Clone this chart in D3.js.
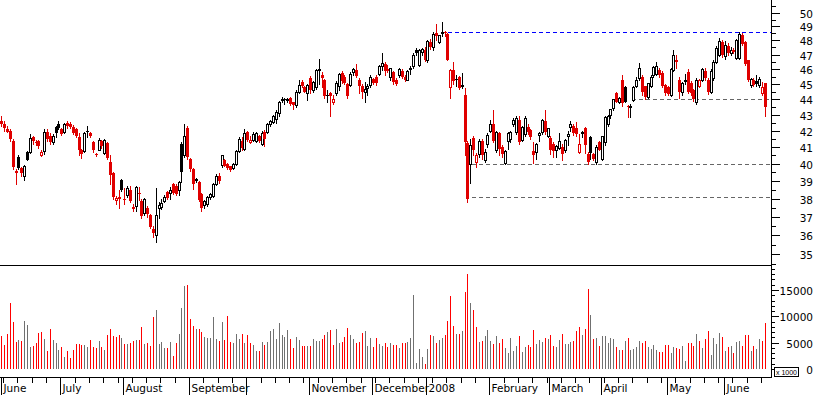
<!DOCTYPE html>
<html><head><meta charset="utf-8">
<script src="https://cdn.jsdelivr.net/npm/d3@7"></script>
<style>html,body{margin:0;padding:0;background:#fff;}svg{display:block;}</style>
</head><body>
<svg id="chart" width="817" height="395"></svg>
<script>
// ---- data (price in currency units, volume in x1000 shares) ----
const open = [
42.6,42.4,42.1,42.0,41.4,39.6,40.4,39.75,39.3,40.7,
40.7,41.6,41.3,41.35,40.5,40.75,41.95,41.7,41.3,42.25,
42.45,42.1,41.9,42.5,42.45,42.25,42.1,41.6,40.8,40.75,
42.0,41.85,41.3,40.6,40.85,41.35,40.65,41.25,40.1,39.45,
37.92,38.1,39.05,38.0,38.2,38.5,37.55,37.6,38.3,37.85,
37.2,37.45,37.1,36.35,36.0,37.45,37.55,37.85,38.4,38.3,
38.8,38.7,38.5,41.2,40.5,42.2,40.3,39.7,39.1,38.95,
38.25,37.65,37.7,38.1,38.15,38.8,39.3,39.95,40.2,40.0,
39.85,39.75,40.0,40.75,41.4,40.9,41.95,41.3,41.45,41.35,
41.7,41.2,41.9,41.9,42.45,42.55,42.75,43.1,44.05,44.05,
43.95,44.1,43.8,43.6,44.5,45.15,44.8,44.4,45.4,44.6,
44.8,45.95,45.6,45.25,44.25,44.4,43.8,44.4,44.9,45.75,
45.5,45.0,44.95,45.8,45.95,45.3,44.9,44.5,44.75,44.95,
45.35,45.5,45.7,46.25,46.35,46.0,45.5,45.8,45.3,45.6,
45.9,45.5,45.3,46.0,46.2,47.35,46.3,47.2,47.3,46.6,
47.9,47.5,48.55,47.9,48.5,48.6,48.45,44.8,45.95,45.35,
45.5,44.9,44.25,41.25,40.0,41.55,40.1,40.6,41.4,40.25,
41.2,42.0,42.45,40.85,41.85,41.0,40.05,41.35,41.5,42.45,
41.9,42.7,41.45,41.8,42.25,42.05,40.75,40.7,41.75,41.9,
42.6,41.65,41.55,41.2,40.8,40.95,41.0,40.85,41.65,42.25,
42.3,42.2,40.7,41.85,42.15,40.6,41.6,40.6,40.1,41.3,
40.3,41.3,42.45,43.0,43.45,44.4,43.85,45.3,44.8,43.55,
43.5,43.95,44.9,45.4,45.45,44.85,44.15,44.9,45.6,45.7,
45.95,45.75,44.95,44.8,44.3,45.95,46.6,45.3,44.5,45.2,
45.8,45.1,44.6,43.85,44.9,45.3,45.9,45.3,44.5,45.4,
46.5,47.0,47.85,46.9,47.6,47.1,47.35,46.75,46.8,48.4,
47.9,46.6,44.95,45.3,45.2,44.95,44.4,45.05];
const high = [
42.9,42.6,42.3,42.1,41.5,39.7,40.5,39.8,39.95,40.75,
41.8,41.7,41.45,41.45,40.8,42.1,42.1,41.85,41.8,42.3,
42.6,42.2,42.5,42.6,42.55,42.35,42.2,41.85,40.9,41.95,
42.3,41.9,41.4,40.65,41.55,41.45,41.5,41.3,40.5,39.5,
38.15,38.5,39.1,38.6,38.7,38.7,37.7,38.7,38.65,37.95,
38.05,37.6,37.15,36.5,38.6,37.8,37.95,38.2,38.45,38.65,
38.9,38.8,39.0,41.3,42.45,42.3,40.35,39.75,39.15,39.0,
38.3,37.9,38.15,38.3,38.9,39.4,39.45,40.55,40.3,40.05,
39.9,40.05,40.8,41.6,41.6,42.1,42.0,41.7,41.9,41.9,
41.75,42.0,42.05,42.5,42.65,43.0,43.3,43.9,44.15,44.1,
44.1,44.15,43.85,44.6,45.3,45.3,44.9,45.0,45.55,45.2,
46.0,46.7,45.8,45.35,44.6,44.45,44.3,45.2,45.75,45.9,
45.6,45.1,45.8,46.05,46.35,45.4,45.0,45.15,45.0,45.6,
45.4,45.6,46.3,47.1,46.5,46.3,46.1,45.9,45.4,46.1,
46.0,45.6,45.95,46.2,47.1,47.45,47.4,47.45,47.5,48.05,
48.1,48.6,49.2,48.4,49.3,48.7,48.5,46.0,46.5,45.6,
45.55,45.75,44.75,41.35,41.5,41.7,40.65,41.5,41.5,40.9,
41.85,42.7,43.3,42.0,41.9,41.1,40.85,41.95,42.0,42.8,
42.95,42.95,42.3,42.9,42.4,42.1,41.3,41.25,41.9,42.75,
43.3,42.2,41.7,41.3,41.1,41.85,41.2,41.5,42.0,42.6,
42.4,42.55,41.8,42.0,42.25,40.7,41.7,40.65,41.1,41.35,
41.7,42.95,43.0,43.4,44.05,44.5,44.15,45.6,44.85,43.65,
43.7,44.85,45.5,46.4,45.6,44.9,45.1,45.6,46.25,46.5,
46.1,45.85,45.0,44.9,46.05,47.3,47.0,45.5,45.15,45.7,
46.0,45.2,44.7,45.4,45.35,46.05,46.1,45.4,46.0,46.6,
47.6,48.2,48.0,47.95,47.8,47.5,47.45,48.1,48.6,48.5,
47.95,46.65,45.4,45.4,45.6,45.5,45.15,45.1];
const low = [
42.3,42.0,41.9,41.4,39.7,38.8,39.7,39.3,39.05,40.2,
40.65,41.2,41.1,40.95,40.45,40.6,41.4,41.2,41.2,41.6,
42.1,41.75,41.85,42.2,42.15,41.8,41.6,40.5,40.35,40.7,
41.6,41.6,40.7,40.45,40.8,40.95,40.6,40.3,38.8,38.0,
37.7,37.5,38.45,37.7,38.1,37.8,37.3,37.3,37.9,36.9,
37.1,37.0,36.4,35.9,35.65,36.9,37.4,37.8,38.0,37.95,
38.25,38.2,38.2,38.95,40.4,40.3,39.6,38.55,38.95,37.85,
37.3,37.5,37.6,37.95,38.1,38.75,38.9,39.8,39.85,39.7,
39.6,39.7,39.95,40.7,40.85,40.85,41.4,41.25,41.4,41.3,
41.3,41.1,41.05,41.85,42.3,42.5,42.5,42.9,43.8,43.7,
43.8,43.6,43.4,43.5,44.4,44.8,44.45,43.95,44.4,44.5,
44.7,45.0,44.8,44.1,43.85,42.9,43.7,44.3,44.6,45.1,
45.0,44.1,44.9,45.6,45.5,44.4,44.1,43.8,44.3,44.8,
45.0,44.95,45.6,45.95,45.6,45.8,45.3,45.0,44.95,45.5,
45.4,45.2,45.25,45.7,46.1,47.0,46.25,47.0,46.55,46.5,
47.4,47.3,48.0,47.8,48.3,48.3,46.6,44.1,45.0,44.9,
44.7,44.75,40.5,37.8,38.9,40.5,39.8,40.4,40.3,40.1,
41.0,41.9,41.3,40.7,40.5,40.4,40.0,40.9,41.3,42.3,
41.8,41.2,41.4,41.7,41.8,41.5,40.05,40.3,41.4,41.8,
41.8,41.6,40.6,40.4,40.4,40.9,40.2,40.7,41.1,42.0,
41.75,41.7,40.65,41.6,40.65,40.0,40.3,40.2,40.0,40.8,
40.25,41.1,42.3,42.8,43.3,43.8,43.75,43.55,43.8,42.85,
42.85,43.9,44.8,45.3,44.3,44.0,44.1,44.8,45.5,45.6,
45.5,44.8,44.3,44.25,44.2,45.9,46.1,44.1,44.3,45.0,
44.4,44.3,43.9,43.7,44.8,45.2,45.3,44.35,44.4,45.3,
46.4,46.9,46.85,46.7,47.0,47.0,47.1,46.7,46.7,47.7,
46.3,45.2,44.8,44.9,44.9,44.8,44.3,42.95];
const close = [
42.45,42.2,41.95,41.5,39.8,39.45,39.75,39.45,39.85,40.25,
41.55,41.35,41.28,41.05,40.7,41.9,41.5,41.3,41.7,41.85,
42.15,41.8,42.45,42.3,42.25,41.85,41.7,40.8,40.6,41.85,
41.9,41.65,40.8,40.5,41.45,41.05,41.45,40.35,39.35,38.1,
38.05,38.0,38.5,37.9,38.6,37.85,37.4,38.65,38.25,37.05,
38.0,37.15,36.45,36.1,37.1,37.65,37.75,38.1,38.05,38.5,
38.3,38.25,38.95,39.5,41.7,40.4,39.7,38.85,39.0,37.9,
37.45,37.85,38.1,38.25,38.8,39.3,39.0,40.5,39.9,39.75,
39.65,40.0,40.75,41.5,40.95,41.85,41.45,41.42,41.8,41.85,
41.35,41.85,41.5,42.4,42.6,42.95,43.2,43.85,43.9,43.95,
44.0,43.7,43.6,44.5,44.95,44.85,44.5,44.95,44.6,45.15,
45.95,46.0,45.4,44.2,44.3,44.2,44.0,45.1,45.7,45.2,
45.1,44.2,45.7,46.0,45.55,44.85,44.5,44.7,44.9,45.5,
45.1,45.05,46.2,46.4,45.9,45.85,46.05,45.15,45.0,46.0,
45.5,45.3,45.9,46.1,47.0,47.1,47.35,47.4,46.6,47.95,
47.5,48.45,48.3,48.35,48.6,48.5,46.65,45.95,45.2,45.25,
44.75,44.95,41.3,38.0,41.1,40.85,40.55,41.35,40.5,40.7,
41.75,42.4,41.4,41.9,40.9,40.6,40.75,41.85,41.9,42.7,
42.8,41.3,42.25,42.8,41.95,41.6,40.5,41.2,41.85,42.7,
41.9,42.15,40.85,40.75,41.05,41.35,40.6,41.45,41.8,42.45,
41.85,41.8,41.2,41.9,41.1,40.1,40.65,40.3,41.0,40.85,
41.65,42.85,42.95,43.35,44.0,43.85,44.1,43.75,43.85,43.5,
43.55,44.8,45.3,46.05,44.5,44.15,45.05,45.5,46.15,46.2,
45.6,44.85,44.4,44.35,46.0,46.95,46.5,44.5,45.05,45.3,
44.5,44.4,44.0,45.3,45.25,46.0,45.4,44.45,45.9,46.5,
47.45,47.95,46.95,47.7,47.1,47.35,47.15,48.0,48.45,47.75,
46.35,45.25,45.35,44.95,45.0,45.35,44.8,43.5];
const volume = [
6300,4600,6600,12600,8900,5200,5500,5300,9100,8400,
4100,4400,5000,6900,7100,5700,3500,7600,5500,4900,
3600,4100,2300,3400,2000,3600,4700,4700,4600,4600,
4100,5500,4100,3900,5300,4100,3600,6500,7600,6300,
6100,6500,5900,4700,4700,5000,5400,5500,5500,8000,
4700,5000,4400,9900,11200,4700,5100,4000,3900,5100,
2500,4900,6600,11600,15800,15900,9500,8200,7600,7600,
7000,6100,5900,5900,9900,5700,5300,8900,5500,10100,
5100,4900,6600,5700,6600,4900,6500,4900,4600,3500,
3500,5100,4600,5100,7200,7600,5700,8700,6500,6100,
7400,5700,4000,6100,5500,4400,4400,4400,4400,5700,
5300,5300,5700,6500,7000,7400,4600,7600,4900,5100,
6100,7800,6500,5700,4900,5100,6800,7200,4400,5900,
4200,5900,4700,4400,4900,4100,4900,4600,4600,4000,
4900,4900,5100,5900,14100,1100,3800,2300,900,3800,
6500,6300,4900,5500,5900,6500,9100,13900,8200,6600,
6600,7200,14600,18000,12500,11200,8000,5100,5300,6300,
7400,5300,4700,6300,4900,5700,4000,3000,5900,3400,
4400,6300,3200,4200,4600,4200,7400,4700,5500,5100,
5900,5700,6500,4400,4200,5500,6600,4700,4700,5100,
5300,7200,8000,6500,7600,15200,10300,5700,5900,4400,
6300,6300,4900,5900,5700,4200,3600,3600,5300,5900,
3600,3800,4200,5300,4900,5300,4200,3800,4600,3600,
3200,3200,4600,4600,3000,4200,4000,3800,4400,1500,
4900,4900,4400,6600,5300,4000,5700,7200,2700,5900,
4700,6800,6100,3400,4200,4400,3000,5100,5300,4400,
6500,6500,3400,4400,3800,5700,5300,8700];
// month start bar indices and labels (October label hidden in the original)
const monthStart = [0,21,43,66,86,108,130,149,171,192,210,233,253];
const monthLabel = ["June","July","August","September","","November","December","2008","February","March","April","May","June"];
const priceTicks = [35,36,37,38,39,40,41,42,43,44,45,46,47,48,49,50];
const volumeTicks = [0,5000,10000,15000];
// horizontal reference levels: value, first bar index
const refValue = [48.57,44,40,38.07];
const refFrom  = [154,221,165,165];
const refColor = ["#0000ff","#666666","#666666","#666666"];

// ---- layout ----
const N = close.length;
const axisX = 771;
const RED = "#e00000", VRED = "#ff0000", VGRAY = "#707070";
const svg = d3.select("#chart").attr("shape-rendering","crispEdges");
svg.append("rect").attr("width",817).attr("height",395).attr("fill","#fff");

const x  = d3.scaleLinear().domain([0, 267]).range([1.3, 764.9]);
const y  = d3.scaleLog().domain([35, 50]).range([254.3, 12.7]);
const yv = d3.scaleLinear().domain([0, 15000]).range([369, 290]);
const px = i => Math.round(x(i));

const font = "DejaVu Sans, Verdana, sans-serif";

// reference dashed lines
const gRef = svg.append("g");
refValue.forEach((v,k)=>{
  const yy = Math.round(y(v)) + 0.5;
  gRef.append("line").attr("x1", px(refFrom[k]) - 1).attr("x2", axisX)
    .attr("y1", yy).attr("y2", yy)
    .attr("stroke", refColor[k]).attr("stroke-width",1).attr("stroke-dasharray","4,3");
});

// candles
const gC = svg.append("g");
for (let i = 0; i < N; i++) {
  const prev = i === 0 ? open[0] : close[i-1];
  const col = close[i] >= prev ? "#000" : RED;
  const hollow = close[i] > open[i];
  const cx = px(i);
  gC.append("line").attr("x1", cx + 0.5).attr("x2", cx + 0.5)
    .attr("y1", Math.round(y(high[i]))).attr("y2", Math.round(y(low[i])) + 1)
    .attr("stroke", col);
  const yo = Math.round(y(open[i])), yc = Math.round(y(close[i]));
  const top = Math.min(yo, yc), bot = Math.max(yo, yc);
  if (hollow && bot - top >= 2) {
    gC.append("rect").attr("x", cx - 0.5).attr("y", top + 0.5)
      .attr("width", 2).attr("height", bot - top)
      .attr("fill", "#fff").attr("stroke", col);
  } else {
    gC.append("rect").attr("x", cx - 1).attr("y", top)
      .attr("width", 3).attr("height", Math.max(1, bot - top + (hollow ? 1 : 0)))
      .attr("fill", col);
  }
}

// volume bars
const gV = svg.append("g");
for (let i = 0; i < N; i++) {
  const prev = i === 0 ? open[0] : close[i-1];
  const col = close[i] >= prev ? VGRAY : VRED;
  const cx = px(i);
  gV.append("line").attr("x1", cx + 0.5).attr("x2", cx + 0.5)
    .attr("y1", Math.round(yv(volume[i]))).attr("y2", 369)
    .attr("stroke", col);
}

// frame lines
const gA = svg.append("g").attr("stroke","#000");
gA.append("line").attr("x1",axisX+0.5).attr("x2",axisX+0.5).attr("y1",0).attr("y2",378);
gA.append("line").attr("x1",0).attr("x2",axisX+1).attr("y1",265.5).attr("y2",265.5);
gA.append("line").attr("x1",0).attr("x2",axisX+1).attr("y1",377.5).attr("y2",377.5);

// price axis ticks
const minorP = d3.range(34.5, 51, 1);
minorP.forEach(v=>{ const yy=Math.round(y(v))+0.5; if(yy<265) gA.append("line").attr("x1",axisX).attr("x2",axisX+5).attr("y1",yy).attr("y2",yy); });
priceTicks.forEach(v=>{
  const yy = Math.round(y(v)) + 0.5;
  gA.append("line").attr("x1",axisX).attr("x2",axisX+9).attr("y1",yy).attr("y2",yy);
  svg.append("text").attr("x",813).attr("y",yy+4.5).attr("text-anchor","end")
    .attr("font-family",font).attr("font-size",10.5).attr("fill","#000").text(v);
});

// volume axis ticks
d3.range(1000, 20000, 1000).forEach(v=>{
  const yy = Math.round(yv(v)) + 0.5;
  if (yy > 266) gA.append("line").attr("x1",axisX).attr("x2",axisX+4).attr("y1",yy).attr("y2",yy);
});
volumeTicks.forEach(v=>{
  const yy = Math.round(yv(v)) + 0.5;
  gA.append("line").attr("x1",axisX).attr("x2",axisX+8).attr("y1",yy).attr("y2",yy);
  svg.append("text").attr("x",813).attr("y",yy+4.5).attr("text-anchor","end")
    .attr("font-family",font).attr("font-size",10.5).attr("fill","#000").text(v);
});
// x 1000 box
svg.append("rect").attr("x",774.5).attr("y",367.5).attr("width",24).attr("height",8.5)
  .attr("fill","#fff").attr("stroke","#000");
svg.append("text").attr("x",776).attr("y",374.8)
  .attr("font-family","Liberation Sans, Arial, sans-serif").attr("font-size",8)
  .attr("textLength",21).attr("lengthAdjust","spacingAndGlyphs")
  .attr("fill","#000").text("x 1000");

// x axis: weekly minor ticks and month ticks
d3.range(1, N, 5).forEach(i=>{
  const xx = px(i) - 0.5;
  gA.append("line").attr("x1",xx).attr("x2",xx).attr("y1",377).attr("y2",383);
});
monthStart.forEach((i,k)=>{
  const xx = Math.max(px(i) - 0.5, 1.5);
  gA.append("line").attr("x1",xx).attr("x2",xx).attr("y1",377).attr("y2",395);
  if (monthLabel[k]) svg.append("text").attr("x",xx+2).attr("y",392)
    .attr("font-family",font).attr("font-size",10.5).attr("fill","#000").text(monthLabel[k]);
});
</script>
</body></html>
